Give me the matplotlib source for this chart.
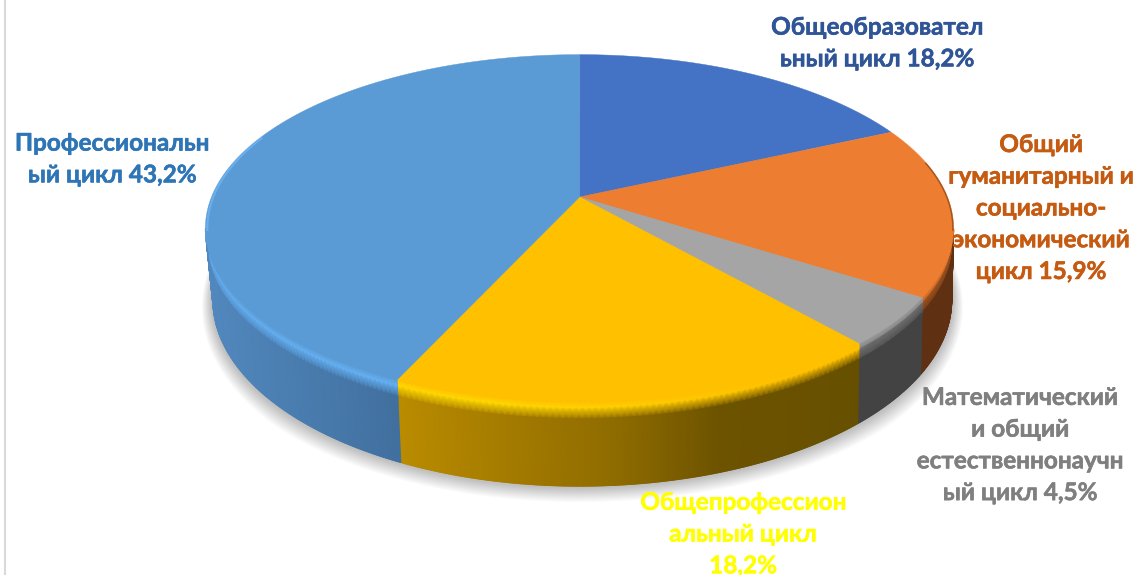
import numpy as np
import matplotlib
matplotlib.use("Agg")
import matplotlib.pyplot as plt
import matplotlib.patheffects as pe
from matplotlib.collections import LineCollection
from matplotlib.colors import to_rgb

# Slices, clockwise from 12 o'clock
labels = [
    "Общеобразовател\nьный цикл 18,2%",
    "Общий\nгуманитарный и\nсоциально-\nэкономический\nцикл 15,9%",
    "Математический\nи общий\nестественнонаучн\nый цикл 4,5%",
    "Общепрофессион\nальный цикл\n18,2%",
    "Профессиональн\nый цикл 43,2%",
]
values = [18.2, 15.9, 4.5, 18.2, 43.2]
top_colors = ["#4472c4", "#ed7d31", "#a5a5a5", "#ffc000", "#5b9bd5"]
text_colors = ["#2f5597", "#c55a11", "#7f7f7f", "#ffff00", "#2e75b6"]

# wall shade stops: (pixel x, colour), and rim highlight colour
wall_stops = [
    [(0, "#4a7ab0"), (1138, "#4a7ab0")],
    [(0, "#5f3112"), (1138, "#5f3112")],
    [(0, "#434343"), (1138, "#434343")],
    [(398, "#bb8c00"), (620, "#8e6b00"), (720, "#6d5300"), (860, "#665000")],
    [(205, "#5289bf"), (400, "#41709f")],
]
rim_colors = [None, None, None, "#ffd900", "#66b2f5"]

label_pos = [(877, 43), (1041, 208), (1020, 445), (743, 534), (112, 159)]

cx, cy = 579.5, 197
a, b, k = 368, 168, 0.18
depth = 69
vis_from, vis_to = 100.4, 259.6


def project(theta, r=1.0):
    t = np.radians(theta)
    u, v = r * np.sin(t), r * np.cos(t)
    w = 1 + k * v
    return cx + a * u / w, cy - b * v / w


def project_low(theta, frac):
    x, y = project(theta)
    w = 1 + k * np.cos(np.radians(theta))
    # the lower edge pulls in more on the left than on the right
    shrink = np.where(x < cx, 0.02, 0.005)
    return cx + (x - cx) * (1 - shrink * frac), y + frac * depth / w


def wall_color(x, stops):
    xs = [s[0] for s in stops]
    cols = np.array([to_rgb(s[1]) for s in stops])
    return np.stack([np.interp(x, xs, cols[:, i]) for i in range(3)], axis=-1)


fig = plt.figure(figsize=(11.38, 5.75), dpi=100)
ax = fig.add_axes([0, 0, 1, 1])
ax.set_xlim(0, 1138)
ax.set_ylim(575, 0)
ax.axis("off")

# page edge on the left
ax.plot([5, 5], [0, 575], color="#d9d9d9", lw=1.5)

# soft shadow under the pie
th = np.linspace(0, 360, 361)
n_shadow = 14
for i in range(n_shadow, 0, -1):
    g = i / n_shadow
    x, y = project_low(th, 1.0)
    x = cx + (x - cx) * (1 + 0.03 * g)
    y = y + 16 * g * np.clip(-np.cos(np.radians(th)) + 0.3, 0, 1)
    ax.fill(x, y, color="black", alpha=0.02, lw=0, zorder=1)

edges = np.concatenate([[0], np.cumsum(values)]) / sum(values) * 360
fracs = np.array([0, 0.07, 0.2, 1.0])

for i, color in enumerate(top_colors):
    start, end = edges[i], edges[i + 1]

    # side wall
    lo, hi = max(start, vis_from), min(end, vis_to)
    if hi > lo:
        th_w = np.linspace(lo, hi, 80)
        X = np.array([project_low(th_w, f)[0] for f in fracs])
        Y = np.array([project_low(th_w, f)[1] for f in fracs])
        wall = wall_color(X[-1], wall_stops[i])
        base = np.tile(np.array(to_rgb(color)), (len(th_w), 1))
        if rim_colors[i]:
            rim = np.array(to_rgb(rim_colors[i]))
            s = np.clip((800 - X[0]) / 300, 0, 1)[:, None]
            mid = base * (1 - s) + rim * s
        else:
            mid = base * 0.6 + wall * 0.4
        C = np.stack([base, mid, wall, wall], axis=0)
        ax.pcolormesh(X, Y, C, shading="gouraud", zorder=2)

        # gouraud edges are not antialiased, so trace the lower edge
        pts = np.column_stack([X[-1], Y[-1]])
        segs = np.stack([pts[:-1], pts[1:]], axis=1)
        ax.add_collection(LineCollection(segs, colors=wall[:-1], lw=0.9, zorder=2))

    # top face
    th_t = np.linspace(start, end, 200)
    x, y = project(th_t)
    ax.fill(
        np.concatenate([[cx], x]),
        np.concatenate([[cy], y]),
        color=color,
        lw=0.3,
        zorder=3,
    )

# thin rim on the back edge
x, y = project(np.linspace(78, 101, 60), 0.998)
ax.plot(x, y, color="#8f4a1c", lw=1.0, alpha=0.8, zorder=4)
x, y = project(np.linspace(259, 292, 60), 0.995)
ax.plot(x, y, color="#6db5f5", lw=1.5, alpha=0.8, zorder=4)

for label, pos, col in zip(labels, label_pos, text_colors):
    ax.text(
        pos[0],
        pos[1],
        label,
        color=col,
        ha="center",
        va="center",
        fontsize=17.5,
        fontweight="bold",
        family=["Lato", "Noto Sans", "DejaVu Sans"],
        linespacing=1.46,
        zorder=6,
        path_effects=[pe.withStroke(linewidth=0.4, foreground=col)],
    )

plt.savefig("out.png", dpi=100)
plt.close()
